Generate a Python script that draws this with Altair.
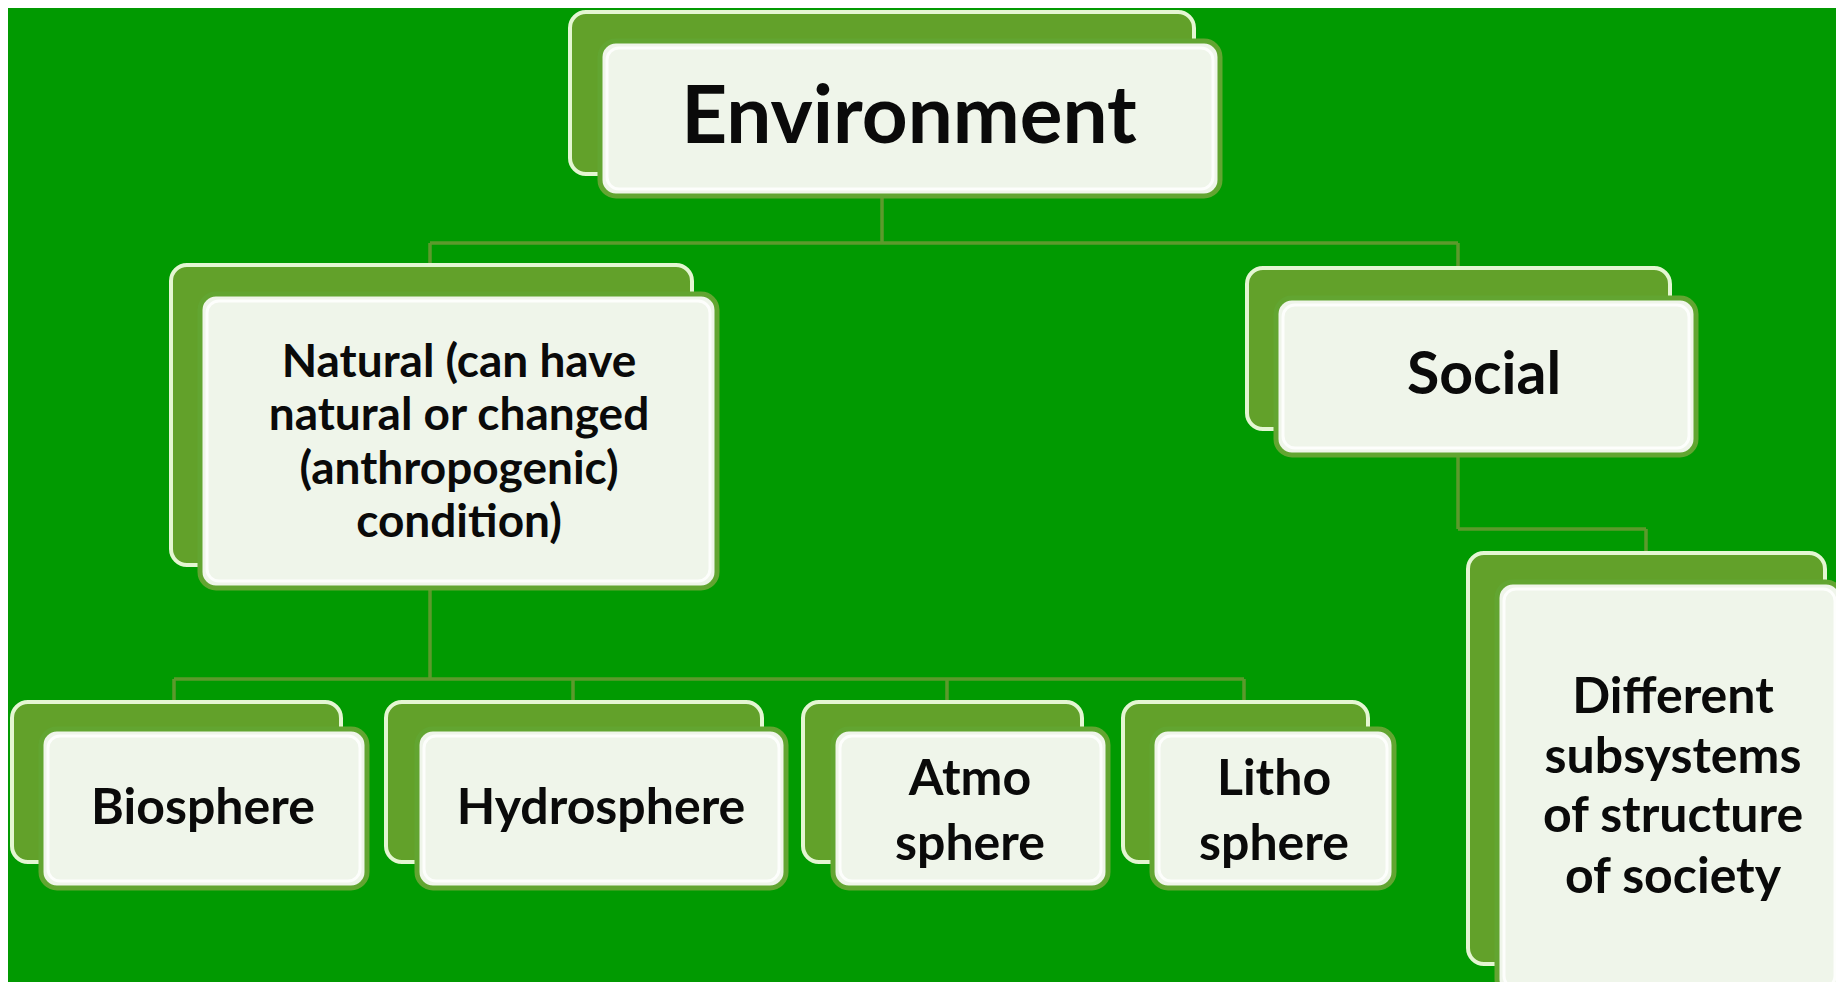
import altair as alt
import pandas as pd

# ---- diagram data (reference pixel units, 1844 x 990 canvas) ----
node_ids = ["Environment", "Natural", "Social", "Different", "Biosphere",
            "Hydrosphere", "Atmosphere", "Lithosphere"]

back_x1 = [570, 171, 1247, 1468, 12, 386, 803, 1123]
back_x2 = [1194, 692, 1670, 1825, 341, 762, 1082, 1368]
back_y1 = [12, 265, 268, 553, 702, 702, 702, 702]
back_y2 = [174, 565, 429, 964, 862, 862, 862, 862]

front_x1 = [600, 200, 1276, 1497, 41, 417, 833, 1152]
front_x2 = [1220, 717, 1696, 1842, 367, 786, 1108, 1394]
front_y1 = [41, 294, 298, 582, 729, 729, 729, 729]
front_y2 = [196, 588, 455, 995, 888, 888, 888, 888]

label_text = ["Environment",
              "Natural (can have", "natural or changed", "(anthropogenic)", "condition)",
              "Social",
              "Different", "subsystems", "of structure", "of society",
              "Biosphere", "Hydrosphere",
              "Atmo", "sphere", "Litho", "sphere"]
label_x = [909, 459, 459, 459, 459, 1484, 1673, 1673, 1673, 1673,
           203, 601, 970, 970, 1274, 1274]
label_y = [119, 363, 416, 470, 523, 376, 698, 758, 817, 878,
           809, 809, 780, 845, 780, 845]
label_size = [80, 46, 46, 46, 46, 59, 50, 50, 50, 50,
              50, 50, 50, 50, 50, 50]

# connector segments
seg_x1 = [882, 430, 430, 1458, 430, 174, 174, 573, 947, 1244, 1458, 1458, 1646]
seg_x2 = [882, 1458, 430, 1458, 430, 1244, 174, 573, 947, 1244, 1458, 1646, 1646]
seg_y1 = [196, 243, 243, 243, 588, 679, 679, 679, 679, 679, 455, 529, 529]
seg_y2 = [243, 243, 265, 268, 679, 679, 702, 702, 702, 702, 529, 529, 553]

BG = "#019a01"
BACK_FILL = "#62a12a"
BACK_STROKE = "#e4f6d2"
FRONT_FILL = "#eff5ea"
FRONT_STROKE = "#62a531"
LINE = "#5c9a2c"

W, H = 1828, 974
xs = alt.Scale(domain=[8, 1836], nice=False, zero=False)
ys = alt.Scale(domain=[982, 8], nice=False, zero=False)

boxes = pd.DataFrame({
    "id": node_ids,
    "bx1": back_x1, "bx2": back_x2, "by1": back_y1, "by2": back_y2,
    "fx1": front_x1, "fx2": front_x2, "fy1": front_y1, "fy2": front_y2,
})
boxes["ix1"] = boxes["fx1"] + 7
boxes["ix2"] = boxes["fx2"] - 7
boxes["iy1"] = boxes["fy1"] + 7
boxes["iy2"] = boxes["fy2"] - 7

labels = pd.DataFrame({"t": label_text, "x": label_x, "y": label_y, "s": label_size})
segs = pd.DataFrame({"x1": seg_x1, "x2": seg_x2, "y1": seg_y1, "y2": seg_y2})

X = lambda f: alt.X(f, type="quantitative", scale=xs, axis=None)
Y = lambda f: alt.Y(f, type="quantitative", scale=ys, axis=None)

lines = alt.Chart(segs).mark_rule(color=LINE, strokeWidth=3.5, clip=True).encode(
    x=X("x1"), x2="x2", y=Y("y1"), y2="y2")

back = alt.Chart(boxes).mark_rect(
    fill=BACK_FILL, stroke=BACK_STROKE, strokeWidth=4, cornerRadius=16, clip=True
).encode(x=X("bx1"), x2="bx2", y=Y("by1"), y2="by2")

front = alt.Chart(boxes).mark_rect(
    fill=FRONT_FILL, stroke=FRONT_STROKE, strokeWidth=5, cornerRadius=16, clip=True
).encode(x=X("fx1"), x2="fx2", y=Y("fy1"), y2="fy2")

inner = alt.Chart(boxes).mark_rect(
    fill="transparent", stroke="#ffffff", strokeWidth=3, strokeOpacity=0.85,
    cornerRadius=12, clip=True
).encode(x=X("ix1"), x2="ix2", y=Y("iy1"), y2="iy2")

text = alt.Chart(labels).mark_text(
    font="Lato", fontWeight="bold", color="#0a0a0a", align="center",
    baseline="middle", clip=True
).encode(x=X("x"), y=Y("y"), text="t:N", size=alt.Size("s:Q", scale=None, legend=None))

chart = alt.layer(lines, back, front, inner, text).properties(
    width=W, height=H, background=BG, padding=0,
    autosize=alt.AutoSizeParams(type="none")
).configure_view(stroke=None)

chart.save("out.html", embed_options={"renderer": "svg", "actions": False})
